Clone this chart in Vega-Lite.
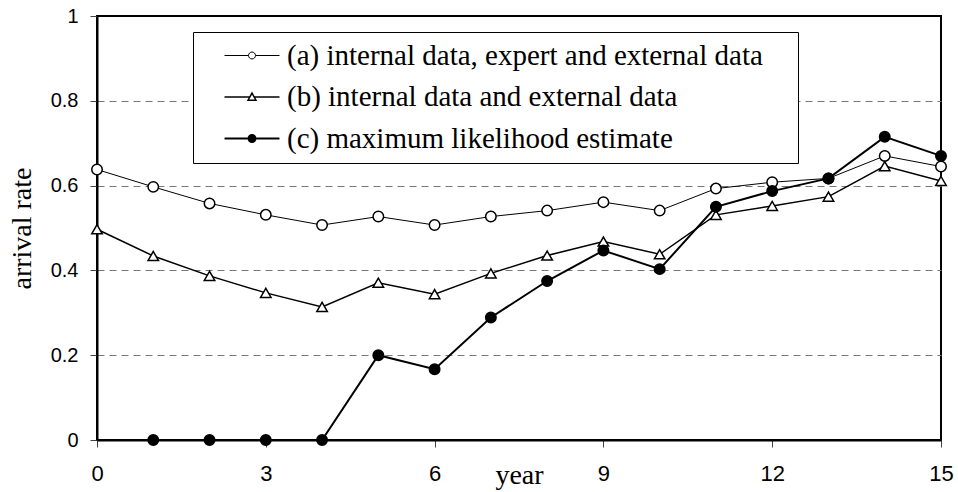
{
  "$schema": "https://vega.github.io/schema/vega-lite/v6.json",
  "width": 844,
  "height": 424,
  "autosize": "none",
  "padding": {"left": 97, "top": 16, "right": 17, "bottom": 52},
  "background": "white",
  "config": {
    "view": {"stroke": "black", "strokeWidth": 2},
    "axis": {"labelColor": "black", "titleColor": "black", "titleFontWeight": "normal", "tickColor": "#444", "tickSize": 7, "domainColor": "black", "domainWidth": 2}
  },
  "data": {
    "values": [
      {"series": "(a) internal data, expert and external data", "year": 0, "rate": 0.638},
      {"series": "(a) internal data, expert and external data", "year": 1, "rate": 0.597},
      {"series": "(a) internal data, expert and external data", "year": 2, "rate": 0.558},
      {"series": "(a) internal data, expert and external data", "year": 3, "rate": 0.531},
      {"series": "(a) internal data, expert and external data", "year": 4, "rate": 0.507},
      {"series": "(a) internal data, expert and external data", "year": 5, "rate": 0.527},
      {"series": "(a) internal data, expert and external data", "year": 6, "rate": 0.507},
      {"series": "(a) internal data, expert and external data", "year": 7, "rate": 0.527},
      {"series": "(a) internal data, expert and external data", "year": 8, "rate": 0.541},
      {"series": "(a) internal data, expert and external data", "year": 9, "rate": 0.561},
      {"series": "(a) internal data, expert and external data", "year": 10, "rate": 0.541},
      {"series": "(a) internal data, expert and external data", "year": 11, "rate": 0.593},
      {"series": "(a) internal data, expert and external data", "year": 12, "rate": 0.608},
      {"series": "(a) internal data, expert and external data", "year": 13, "rate": 0.617},
      {"series": "(a) internal data, expert and external data", "year": 14, "rate": 0.670},
      {"series": "(a) internal data, expert and external data", "year": 15, "rate": 0.645},
      {"series": "(b) internal data and external data", "year": 0, "rate": 0.497},
      {"series": "(b) internal data and external data", "year": 1, "rate": 0.434},
      {"series": "(b) internal data and external data", "year": 2, "rate": 0.387},
      {"series": "(b) internal data and external data", "year": 3, "rate": 0.347},
      {"series": "(b) internal data and external data", "year": 4, "rate": 0.314},
      {"series": "(b) internal data and external data", "year": 5, "rate": 0.371},
      {"series": "(b) internal data and external data", "year": 6, "rate": 0.344},
      {"series": "(b) internal data and external data", "year": 7, "rate": 0.393},
      {"series": "(b) internal data and external data", "year": 8, "rate": 0.435},
      {"series": "(b) internal data and external data", "year": 9, "rate": 0.468},
      {"series": "(b) internal data and external data", "year": 10, "rate": 0.438},
      {"series": "(b) internal data and external data", "year": 11, "rate": 0.531},
      {"series": "(b) internal data and external data", "year": 12, "rate": 0.552},
      {"series": "(b) internal data and external data", "year": 13, "rate": 0.574},
      {"series": "(b) internal data and external data", "year": 14, "rate": 0.646},
      {"series": "(b) internal data and external data", "year": 15, "rate": 0.611},
      {"series": "(c) maximum likelihood estimate", "year": 1, "rate": 0},
      {"series": "(c) maximum likelihood estimate", "year": 2, "rate": 0},
      {"series": "(c) maximum likelihood estimate", "year": 3, "rate": 0},
      {"series": "(c) maximum likelihood estimate", "year": 4, "rate": 0},
      {"series": "(c) maximum likelihood estimate", "year": 5, "rate": 0.200},
      {"series": "(c) maximum likelihood estimate", "year": 6, "rate": 0.167},
      {"series": "(c) maximum likelihood estimate", "year": 7, "rate": 0.289},
      {"series": "(c) maximum likelihood estimate", "year": 8, "rate": 0.375},
      {"series": "(c) maximum likelihood estimate", "year": 9, "rate": 0.447},
      {"series": "(c) maximum likelihood estimate", "year": 10, "rate": 0.403},
      {"series": "(c) maximum likelihood estimate", "year": 11, "rate": 0.550},
      {"series": "(c) maximum likelihood estimate", "year": 12, "rate": 0.587},
      {"series": "(c) maximum likelihood estimate", "year": 13, "rate": 0.617},
      {"series": "(c) maximum likelihood estimate", "year": 14, "rate": 0.715},
      {"series": "(c) maximum likelihood estimate", "year": 15, "rate": 0.670}
    ]
  },
  "encoding": {
    "x": {
      "field": "year", "type": "quantitative",
      "scale": {"domain": [0, 15], "nice": false, "zero": false},
      "axis": {
        "values": [0, 3, 6, 9, 12, 15],
        "grid": false,
        "labelFlush": false,
        "labelOverlap": false,
        "labelFont": "Liberation Sans",
        "labelFontSize": 22,
        "labelPadding": 16,
        "title": "year",
        "titleFont": "Liberation Serif",
        "titleFontSize": 28,
        "titleY": 43,
        "titleBaseline": "alphabetic"
      }
    },
    "y": {
      "field": "rate", "type": "quantitative",
      "scale": {"domain": [0, 1], "nice": false},
      "axis": {
        "values": [0, 0.2, 0.4, 0.6, 0.8, 1],
        "format": "~g",
        "grid": true,
        "gridColor": "#777",
        "gridDash": [7, 5],
        "gridWidth": 1,
        "gridOpacity": {"condition": {"test": "datum.value == 0 || datum.value == 1", "value": 0}, "value": 1},
        "labelFont": "Liberation Sans",
        "labelFontSize": 20,
        "labelPadding": 12,
        "title": "arrival rate",
        "titleFont": "Liberation Serif",
        "titleFontSize": 28,
        "titleAngle": -90,
        "titleX": -75,
        "titleY": 212,
        "titleAlign": "center",
        "titleBaseline": "middle"
      }
    }
  },
  "resolve": {
    "scale": {"shape": "independent", "strokeWidth": "independent"},
    "legend": {"shape": "independent", "strokeWidth": "independent"}
  },
  "layer": [
    {
      "mark": {"type": "line", "color": "black"},
      "encoding": {
        "detail": {"field": "series", "type": "nominal"},
        "strokeWidth": {
          "field": "series", "type": "nominal",
          "scale": {"range": [1, 2, 2]},
          "legend": null
        }
      }
    },
    {
      "mark": {"type": "point", "filled": true, "stroke": "black", "strokeWidth": 1.5, "size": 110, "opacity": 1},
      "encoding": {
        "fill": {
          "field": "series", "type": "nominal",
          "scale": {"range": ["white", "white", "black"]},
          "legend": null
        },
        "shape": {
          "field": "series", "type": "nominal",
          "scale": {"range": ["circle", "triangle-up", "circle"]},
          "legend": null
        }
      }
    },
    {
      "mark": {"type": "point", "filled": false, "stroke": "black", "size": 576, "opacity": 0},
      "encoding": {
        "strokeWidth": {
          "field": "series", "type": "nominal",
          "scale": {"range": [1, 2, 2]}
        },
        "shape": {
          "field": "series", "type": "nominal",
          "scale": {"range": [
            "M-2.29,0H-0.29M0.29,0H2.29M-0.29,0A0.29,0.29,0,1,0,0.29,0A0.29,0.29,0,1,0,-0.29,0Z",
            "M-2.29,0H-0.18M0.18,0H2.29M0,-0.32L0.33,0.27L-0.33,0.27Z",
            "M-2.29,0H2.29M-0.29,0A0.29,0.29,0,1,0,0.29,0A0.29,0.29,0,1,0,-0.29,0ZM-0.14,0A0.14,0.14,0,1,0,0.14,0A0.14,0.14,0,1,0,-0.14,0ZM-0.04,0A0.04,0.04,0,1,0,0.04,0A0.04,0.04,0,1,0,-0.04,0Z"
          ]},
          "legend": {
            "title": " ",
            "titleOrient": "right",
            "titlePadding": 26,
            "titleFontSize": 1,
            "orient": "none",
            "legendX": 96,
            "legendY": 16,
            "padding": 9,
            "fillColor": "white",
            "strokeColor": "black",
            "symbolSize": 576,
            "symbolOffset": 35.5,
            "labelOffset": 20.5,
            "rowPadding": 11.5,
            "labelFont": "Liberation Serif",
            "labelFontSize": 29,
            "labelColor": "black",
            "labelLimit": 2000,
            "labelBaseline": "middle",
            "encode": {
              "legend": {"update": {"strokeWidth": {"value": 2}}}
            }
          }
        }
      }
    }
  ]
}
